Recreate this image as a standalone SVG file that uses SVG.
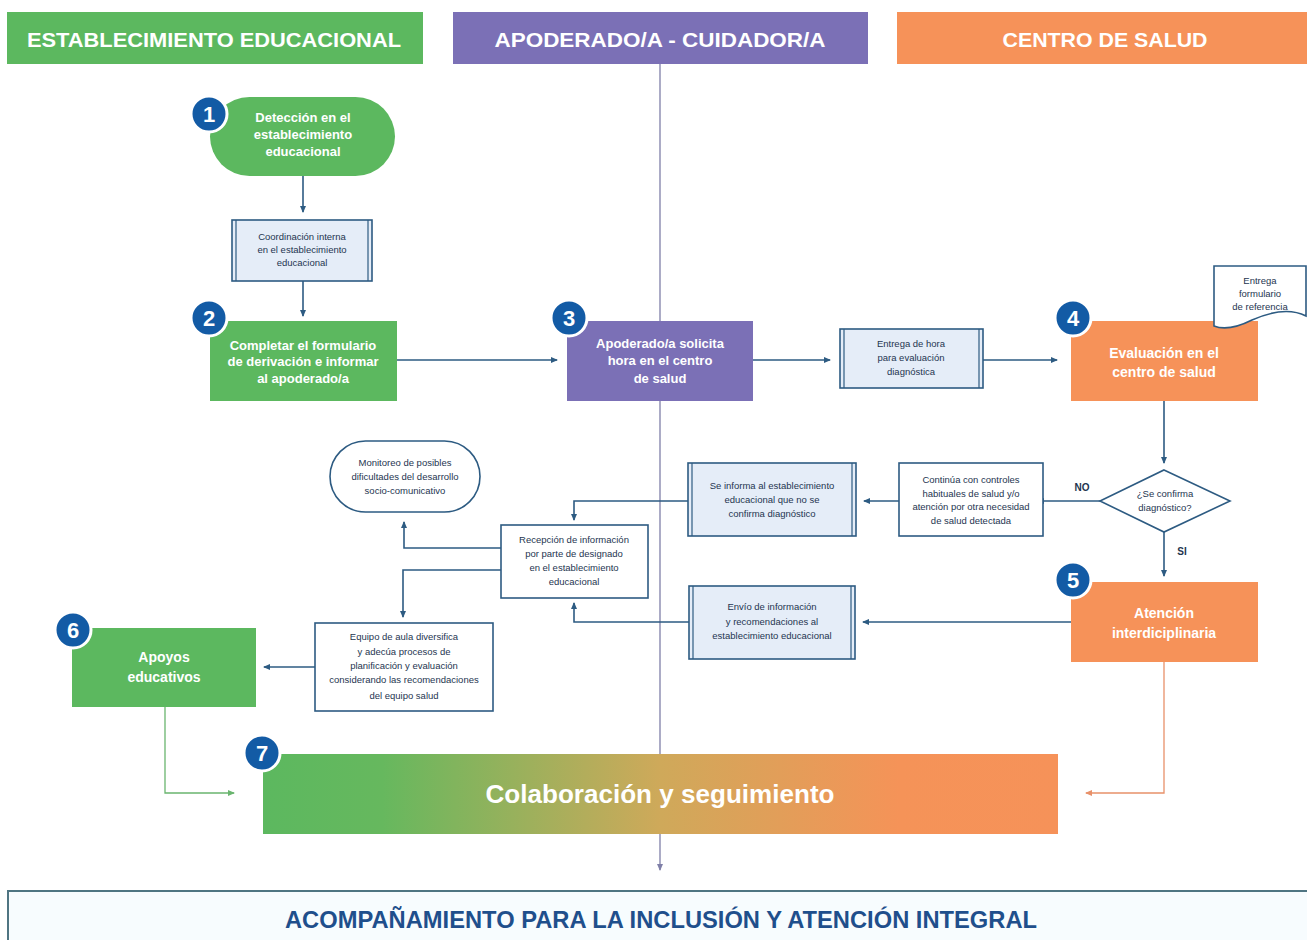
<svg xmlns="http://www.w3.org/2000/svg" width="1307" height="940" viewBox="0 0 1307 940">
<style>
.hdr{font-family:"Liberation Sans",Arial,sans-serif;font-weight:bold;fill:#fff;text-anchor:middle}
.nt{font-family:"Liberation Sans",Arial,sans-serif;font-weight:bold;fill:#fff;text-anchor:middle;font-size:13px}
.nt14{font-family:"Liberation Sans",Arial,sans-serif;font-weight:bold;fill:#fff;text-anchor:middle;font-size:14px}
.st{font-family:"Liberation Sans",Arial,sans-serif;fill:#1e3550;text-anchor:middle;font-size:9.5px}
.lbl{font-family:"Liberation Sans",Arial,sans-serif;font-weight:bold;fill:#1e3550;font-size:10px;text-anchor:middle}
.num{font-family:"Liberation Sans",Arial,sans-serif;font-weight:bold;fill:#fff;text-anchor:middle;font-size:22px}
.circ{fill:#135ba5;stroke:#fff;stroke-width:3}
.box{fill:#fff;stroke:#2d5b82;stroke-width:1.6}
.pbox{fill:#e5edf8;stroke:#2d5b82;stroke-width:1.6}
.pl{stroke:#2d5b82;stroke-width:1.2}
.con{fill:none;stroke:#2d5b82;stroke-width:1.6}
.green{fill:#5cb85f}
.purple{fill:#7b70b6}
.orange{fill:#f69259}
</style>
<defs>
<marker id="ab" markerWidth="8" markerHeight="8" refX="6" refY="4" orient="auto" markerUnits="userSpaceOnUse"><path d="M0,1 L7,4 L0,7 Z" fill="#2d5b82"/></marker>
<marker id="ag" markerWidth="8" markerHeight="8" refX="6" refY="4" orient="auto" markerUnits="userSpaceOnUse"><path d="M0,1 L7,4 L0,7 Z" fill="#6ab56f"/></marker>
<marker id="ao" markerWidth="8" markerHeight="8" refX="6" refY="4" orient="auto" markerUnits="userSpaceOnUse"><path d="M0,1 L7,4 L0,7 Z" fill="#e8916a"/></marker>
<marker id="ap" markerWidth="8" markerHeight="8" refX="6" refY="4" orient="auto" markerUnits="userSpaceOnUse"><path d="M0,1 L7,4 L0,7 Z" fill="#7f7fa8"/></marker>
<linearGradient id="grad7" x1="0" y1="0" x2="1" y2="0">
<stop offset="0" stop-color="#5cb85f"/>
<stop offset="0.15" stop-color="#66b85e"/>
<stop offset="0.5" stop-color="#cfa95a"/>
<stop offset="0.8" stop-color="#f59358"/>
<stop offset="1" stop-color="#f69259"/>
</linearGradient>
</defs>
<rect width="1307" height="940" fill="#fff"/>

<!-- lane headers -->
<g id="header-establecimiento">
<rect x="7" y="12" width="416" height="52" class="green"/>
<text x="214" y="47" class="hdr" font-size="21" textLength="374" lengthAdjust="spacingAndGlyphs">ESTABLECIMIENTO EDUCACIONAL</text>
</g>
<g id="header-apoderado">
<rect x="453" y="12" width="415" height="52" class="purple"/>
<text x="660" y="47" class="hdr" font-size="21" textLength="331" lengthAdjust="spacingAndGlyphs">APODERADO/A - CUIDADOR/A</text>
</g>
<g id="header-centro">
<rect x="897" y="12" width="410" height="52" class="orange"/>
<text x="1105" y="47" class="hdr" font-size="21" textLength="205" lengthAdjust="spacingAndGlyphs">CENTRO DE SALUD</text>
</g>

<!-- connectors -->
<g id="connectors">
<line x1="660" y1="64" x2="660" y2="870" stroke="#7f7fa8" stroke-width="1.3" marker-end="url(#ap)"/>
<line x1="303" y1="176" x2="303" y2="212" class="con" marker-end="url(#ab)"/>
<line x1="303" y1="281" x2="303" y2="316" class="con" marker-end="url(#ab)"/>
<line x1="397" y1="360" x2="557" y2="360" class="con" marker-end="url(#ab)"/>
<line x1="753" y1="360" x2="830" y2="360" class="con" marker-end="url(#ab)"/>
<line x1="983" y1="360" x2="1057" y2="360" class="con" marker-end="url(#ab)"/>
<line x1="1164" y1="401" x2="1164" y2="463" class="con" marker-end="url(#ab)"/>
<line x1="1100" y1="501" x2="1038" y2="501" class="con" marker-end="url(#ab)"/>
<line x1="899" y1="501" x2="864" y2="501" class="con" marker-end="url(#ab)"/>
<polyline points="688,501 574,501 574,520" class="con" marker-end="url(#ab)"/>
<line x1="1164" y1="532" x2="1164" y2="576" class="con" marker-end="url(#ab)"/>
<line x1="1071" y1="622" x2="863" y2="622" class="con" marker-end="url(#ab)"/>
<polyline points="689,622 574,622 574,603" class="con" marker-end="url(#ab)"/>
<polyline points="501,548 404,548 404,522" class="con" marker-end="url(#ab)"/>
<polyline points="501,570 403,570 403,617" class="con" marker-end="url(#ab)"/>
<line x1="315" y1="667" x2="264" y2="667" class="con" marker-end="url(#ab)"/>
<polyline points="165,707 165,793 234,793" fill="none" stroke="#6ab56f" stroke-width="1.3" marker-end="url(#ag)"/>
<polyline points="1164,662 1164,793 1086,793" fill="none" stroke="#e8916a" stroke-width="1.3" marker-end="url(#ao)"/>
<text x="1082" y="491" class="lbl">NO</text>
<text x="1182" y="555" class="lbl">SI</text>
</g>

<!-- nodes -->
<g id="node1">
<rect x="210" y="97" width="185" height="79" rx="39.5" class="green"/>
<text x="303" y="122" class="nt">Detección en el</text>
<text x="303" y="139" class="nt">establecimiento</text>
<text x="303" y="156" class="nt">educacional</text>
<circle cx="209" cy="114" r="18" class="circ"/>
<text x="209" y="122" class="num">1</text>
</g>
<g id="coordinacion">
<rect x="232" y="220" width="140" height="61" class="pbox"/>
<line x1="236" y1="220" x2="236" y2="281" class="pl"/>
<line x1="368" y1="220" x2="368" y2="281" class="pl"/>
<text x="302" y="240" class="st">Coordinación interna</text>
<text x="302" y="253" class="st">en el establecimiento</text>
<text x="302" y="266" class="st">educacional</text>
</g>
<g id="node2">
<rect x="210" y="321" width="187" height="80" class="green"/>
<text x="303" y="350" class="nt">Completar el formulario</text>
<text x="303" y="366" class="nt">de derivación e informar</text>
<text x="303" y="383" class="nt">al apoderado/a</text>
<circle cx="209" cy="318" r="18" class="circ"/>
<text x="209" y="326" class="num">2</text>
</g>
<g id="node3">
<rect x="567" y="321" width="186" height="80" class="purple"/>
<text x="660" y="348" class="nt">Apoderado/a solicita</text>
<text x="660" y="365" class="nt">hora en el centro</text>
<text x="660" y="383" class="nt">de salud</text>
<circle cx="569" cy="318" r="18" class="circ"/>
<text x="569" y="326" class="num">3</text>
</g>
<g id="entrega-hora">
<rect x="840" y="329" width="143" height="59" class="pbox"/>
<line x1="844" y1="329" x2="844" y2="388" class="pl"/>
<line x1="979" y1="329" x2="979" y2="388" class="pl"/>
<text x="911" y="347" class="st">Entrega de hora</text>
<text x="911" y="361" class="st">para evaluación</text>
<text x="911" y="375" class="st">diagnóstica</text>
</g>
<g id="node4">
<rect x="1071" y="321" width="187" height="80" class="orange"/>
<text x="1164" y="358" class="nt14">Evaluación en el</text>
<text x="1164" y="377" class="nt14">centro de salud</text>
<circle cx="1073" cy="318" r="18" class="circ"/>
<text x="1073" y="326" class="num">4</text>
</g>
<g id="formulario-referencia">
<path d="M1214,266 H1306 V316 C1290,308 1270,312 1252,320 C1236,328 1224,330 1214,326 Z" class="box"/>
<text x="1260" y="284" class="st">Entrega</text>
<text x="1260" y="297" class="st">formulario</text>
<text x="1260" y="310" class="st">de referencia</text>
</g>
<g id="decision">
<polygon points="1164,470 1230,501 1164,532 1100,501" class="box"/>
<text x="1165" y="497" class="st">¿Se confirma</text>
<text x="1165" y="511" class="st">diagnóstico?</text>
</g>
<g id="continua">
<rect x="899" y="463" width="144" height="73" class="box"/>
<text x="971" y="483" class="st">Continúa con controles</text>
<text x="971" y="497" class="st">habituales de salud y/o</text>
<text x="971" y="510" class="st">atención por otra necesidad</text>
<text x="971" y="524" class="st">de salud detectada</text>
</g>
<g id="se-informa">
<rect x="688" y="463" width="168" height="73" class="pbox"/>
<line x1="692" y1="463" x2="692" y2="536" class="pl"/>
<line x1="852" y1="463" x2="852" y2="536" class="pl"/>
<text x="772" y="489" class="st">Se informa al establecimiento</text>
<text x="772" y="503" class="st">educacional que no se</text>
<text x="772" y="517" class="st">confirma diagnóstico</text>
</g>
<g id="recepcion">
<rect x="501" y="525" width="147" height="73" class="box"/>
<text x="574" y="543" class="st">Recepción de información</text>
<text x="574" y="557" class="st">por parte de designado</text>
<text x="574" y="571" class="st">en el establecimiento</text>
<text x="574" y="585" class="st">educacional</text>
</g>
<g id="monitoreo">
<rect x="330" y="441" width="150" height="71" rx="35.5" class="box"/>
<text x="405" y="466" class="st">Monitoreo de posibles</text>
<text x="405" y="480" class="st">dificultades del desarrollo</text>
<text x="405" y="494" class="st">socio-comunicativo</text>
</g>
<g id="node5">
<rect x="1071" y="582" width="187" height="80" class="orange"/>
<text x="1164" y="618" class="nt14">Atención</text>
<text x="1164" y="638" class="nt14">interdiciplinaria</text>
<circle cx="1073" cy="580" r="18" class="circ"/>
<text x="1073" y="588" class="num">5</text>
</g>
<g id="envio">
<rect x="689" y="586" width="166" height="73" class="pbox"/>
<line x1="693" y1="586" x2="693" y2="659" class="pl"/>
<line x1="851" y1="586" x2="851" y2="659" class="pl"/>
<text x="772" y="610" class="st">Envío de información</text>
<text x="772" y="625" class="st">y recomendaciones al</text>
<text x="772" y="639" class="st">establecimiento educacional</text>
</g>
<g id="equipo-aula">
<rect x="315" y="623" width="178" height="88" class="box"/>
<text x="404" y="640" class="st">Equipo de aula diversifica</text>
<text x="404" y="655" class="st">y adecúa procesos de</text>
<text x="404" y="669" class="st">planificación y evaluación</text>
<text x="404" y="683" class="st">considerando las recomendaciones</text>
<text x="404" y="699" class="st">del equipo salud</text>
</g>
<g id="node6">
<rect x="72" y="628" width="184" height="79" class="green"/>
<text x="164" y="662" class="nt14">Apoyos</text>
<text x="164" y="682" class="nt14">educativos</text>
<circle cx="73" cy="630" r="18" class="circ"/>
<text x="73" y="638" class="num">6</text>
</g>
<g id="node7">
<rect x="263" y="754" width="795" height="80" fill="url(#grad7)"/>
<text x="660" y="803" class="hdr" font-size="25" textLength="349" lengthAdjust="spacingAndGlyphs">Colaboración y seguimiento</text>
<circle cx="262" cy="753" r="18" class="circ"/>
<text x="262" y="761" class="num">7</text>
</g>
<g id="acompanamiento">
<rect x="8" y="891" width="1310" height="60" fill="#f7fcfe" stroke="#4f7582" stroke-width="2"/>
<text x="661" y="928" font-family="Liberation Sans, Arial, sans-serif" font-weight="bold" font-size="23" fill="#1f4f8c" text-anchor="middle" textLength="752" lengthAdjust="spacingAndGlyphs">ACOMPAÑAMIENTO PARA LA INCLUSIÓN Y ATENCIÓN INTEGRAL</text>
</g>
</svg>
